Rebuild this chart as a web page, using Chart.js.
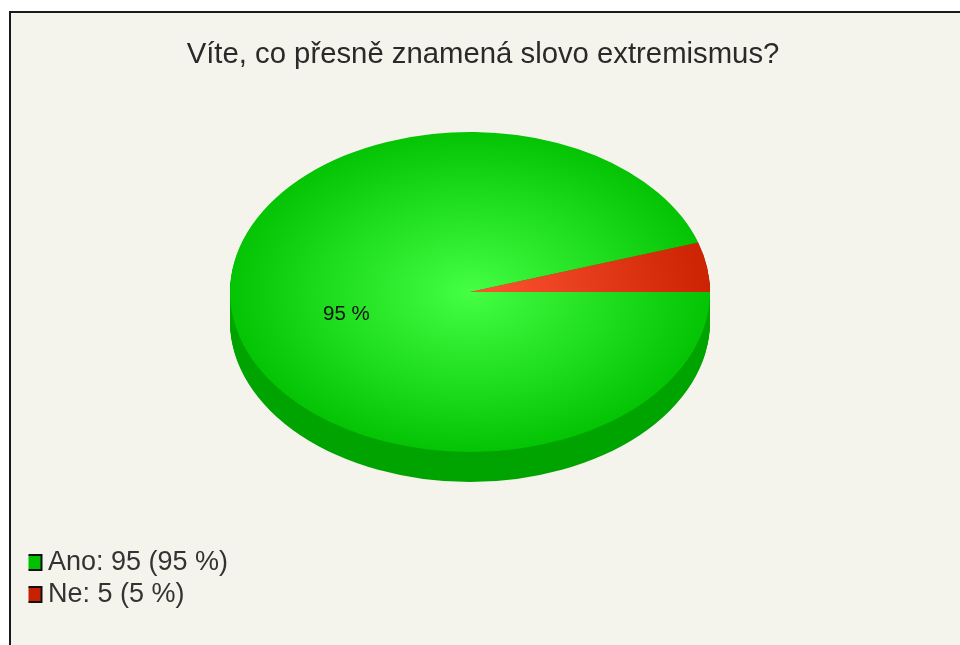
<!DOCTYPE html>
<html>
<head>
<meta charset="utf-8">
<title>Víte, co přesně znamená slovo extremismus?</title>
<script src="https://cdn.jsdelivr.net/npm/chart.js@4"></script>
<style>
    html, body { margin: 0; padding: 0; background: #fff; overflow: hidden; }
    #frame { position: absolute; left: 9px; top: 11px; right: 0; bottom: 0; background: #f4f4ec;
             border-left: 2px solid #1a1a1a; border-top: 2px solid #1a1a1a; filter: blur(0.5px); }
    #chart { position: absolute; left: 0; top: 0; filter: blur(0.7px); }
</style>
</head>
<body>
<div id="frame"></div>
<canvas id="chart" width="960" height="645"></canvas>
<script>
var categories = ["Ano", "Ne"];
var answers = [95, 5];
var percents = [95, 5];
var titleText = "Víte, co přesně znamená slovo extremismus?";

var baseColors = ["#00c000", "#c82000"];
var lightColors = ["#44ff44", "#ff5533"];
var rimColors = ["#00a400", "#a01a00"];

// the pie is squashed into an ellipse, this is where it ends up on the page
var PIE_X = 470, PIE_Y = 292, SQUASH = 2 / 3, DEPTH = 30;

function sliceGradient(context) {
    var area = context.chart.chartArea;
    var i = context.dataIndex;
    if (!area) return baseColors[i];
    var x = (area.left + area.right) / 2;
    var y = (area.top + area.bottom) / 2;
    var g = context.chart.ctx.createRadialGradient(x, y, 0, x, y, 255);
    g.addColorStop(0, lightColors[i]);
    g.addColorStop(1, baseColors[i]);
    return g;
}

function squash(ctx, arc) {
    ctx.translate(PIE_X, PIE_Y);
    ctx.scale(1, SQUASH);
    ctx.translate(-arc.x, -arc.y);
}

var pie3d = {
    id: "pie3d",
    beforeDatasetsDraw: function (chart) {
        var ctx = chart.ctx;
        var arcs = chart.getDatasetMeta(0).data;
        ctx.save();
        squash(ctx, arcs[0]);
        // rim first, stacked downwards from the slices. backwards so the green covers the red one
        for (var i = arcs.length - 1; i >= 0; i--) {
            var arc = arcs[i];
            ctx.fillStyle = rimColors[i];
            for (var d = DEPTH; d > 0; d--) {
                var dy = d / SQUASH;
                ctx.beginPath();
                ctx.moveTo(arc.x, arc.y + dy);
                ctx.arc(arc.x, arc.y + dy, arc.outerRadius, arc.startAngle, arc.endAngle);
                ctx.closePath();
                ctx.fill();
            }
        }
    },
    afterDatasetsDraw: function (chart) {
        var ctx = chart.ctx;
        ctx.restore();
        // only the big slice carries a label
        var arc = chart.getDatasetMeta(0).data[0];
        var p = arc.tooltipPosition();
        ctx.save();
        ctx.font = "20.5px 'Liberation Sans'";
        ctx.fillStyle = "#111";
        ctx.textAlign = "center";
        ctx.textBaseline = "middle";
        ctx.fillText(percents[0] + " %", PIE_X + (p.x - arc.x) - 5, PIE_Y + (p.y - arc.y) * SQUASH + 10);
        ctx.restore();
    }
};

new Chart(document.getElementById("chart").getContext("2d"), {
    type: "pie",
    data: {
        labels: categories,
        datasets: [{
            data: answers,
            backgroundColor: sliceGradient,
            borderWidth: 0
        }]
    },
    options: {
        responsive: false,
        animation: false,
        rotation: 90,
        radius: 240,
        layout: { padding: { left: 28.5, right: 22.5, top: 0, bottom: 32 } },
        plugins: {
            tooltip: { enabled: false },
            title: {
                display: true,
                text: titleText,
                color: "#2a2a2a",
                font: { family: "'Liberation Sans'", size: 29.3, weight: "normal" },
                padding: { top: 37, bottom: 10 }
            },
            legend: {
                position: "left",
                align: "end",
                labels: {
                    color: "#333",
                    font: { family: "'Liberation Sans'", size: 27 },
                    usePointStyle: true,
                    boxWidth: 1,
                    boxHeight: 15,
                    padding: 5,
                    generateLabels: function () {
                        return categories.map(function (name, i) {
                            return {
                                text: name + ": " + answers[i] + " (" + percents[i] + " %)",
                                fillStyle: baseColors[i],
                                strokeStyle: "#111",
                                fontColor: "#333",
                                lineWidth: 2,
                                pointStyle: "rect",
                                rotation: 0,
                                index: i
                            };
                        });
                    }
                }
            }
        }
    },
    plugins: [pie3d]
});
</script>
</body>
</html>
